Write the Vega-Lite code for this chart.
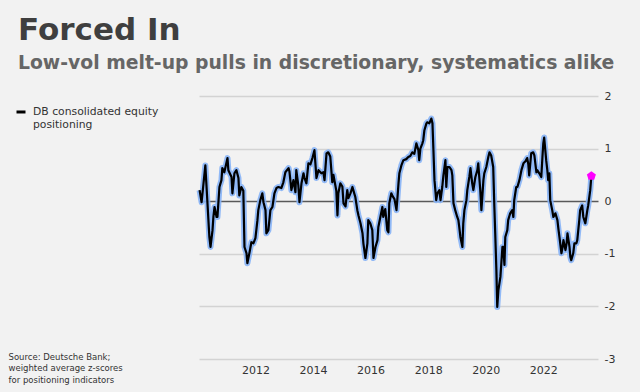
{
  "$schema": "https://vega.github.io/schema/vega-lite/v6.json",
  "width": 399,
  "height": 263,
  "autosize": {"type": "none"},
  "padding": {"left": 199, "top": 96, "right": 42, "bottom": 33},
  "background": "#f2f2f2",
  "config": {"font": "DejaVu Sans", "view": {"stroke": null}},
  "title": {
    "text": "Forced In",
    "subtitle": "Low-vol melt-up pulls in discretionary, systematics alike",
    "anchor": "start",
    "frame": "group",
    "dx": -181,
    "offset": 16,
    "font": "DejaVu Sans",
    "fontSize": 31,
    "fontWeight": "bold",
    "color": "#3f3f3f",
    "subtitleFont": "DejaVu Sans",
    "subtitleFontSize": 18.8,
    "subtitleFontWeight": "bold",
    "subtitleColor": "#666666",
    "subtitlePadding": 7
  },
  "data": {"values": [
    {"t": 2010.06, "v": 0.21}, {"t": 2010.13, "v": -0.02}, {"t": 2010.26, "v": 0.68}, {"t": 2010.40, "v": -0.68},
    {"t": 2010.44, "v": -0.87}, {"t": 2010.51, "v": -0.55}, {"t": 2010.54, "v": -0.30}, {"t": 2010.58, "v": -0.11},
    {"t": 2010.65, "v": -0.30}, {"t": 2010.68, "v": -0.30}, {"t": 2010.75, "v": 0.27}, {"t": 2010.82, "v": 0.40},
    {"t": 2010.85, "v": 0.63}, {"t": 2010.92, "v": 0.55}, {"t": 2011.03, "v": 0.82}, {"t": 2011.06, "v": 0.59},
    {"t": 2011.17, "v": 0.46}, {"t": 2011.20, "v": 0.15}, {"t": 2011.27, "v": 0.53}, {"t": 2011.34, "v": 0.59},
    {"t": 2011.41, "v": 0.44}, {"t": 2011.44, "v": 0.11}, {"t": 2011.51, "v": 0.27}, {"t": 2011.58, "v": 0.20},
    {"t": 2011.62, "v": -0.87}, {"t": 2011.69, "v": -0.99}, {"t": 2011.72, "v": -1.18}, {"t": 2011.79, "v": -0.99},
    {"t": 2011.86, "v": -0.78}, {"t": 2011.93, "v": -0.80}, {"t": 2012.00, "v": -0.70}, {"t": 2012.07, "v": -0.36},
    {"t": 2012.10, "v": -0.17}, {"t": 2012.17, "v": 0.02}, {"t": 2012.24, "v": 0.15}, {"t": 2012.28, "v": -0.02},
    {"t": 2012.35, "v": -0.17}, {"t": 2012.38, "v": -0.61}, {"t": 2012.45, "v": -0.55}, {"t": 2012.52, "v": -0.17},
    {"t": 2012.59, "v": -0.11}, {"t": 2012.66, "v": 0.15}, {"t": 2012.73, "v": 0.25}, {"t": 2012.80, "v": 0.27},
    {"t": 2012.90, "v": 0.25}, {"t": 2012.97, "v": 0.36}, {"t": 2013.04, "v": 0.55}, {"t": 2013.15, "v": 0.63},
    {"t": 2013.18, "v": 0.57}, {"t": 2013.25, "v": 0.21}, {"t": 2013.32, "v": 0.40}, {"t": 2013.39, "v": 0.17},
    {"t": 2013.42, "v": 0.59}, {"t": 2013.49, "v": 0.30}, {"t": 2013.53, "v": -0.02}, {"t": 2013.60, "v": 0.34},
    {"t": 2013.67, "v": 0.53}, {"t": 2013.70, "v": 0.45}, {"t": 2013.77, "v": 0.34}, {"t": 2013.84, "v": 0.72},
    {"t": 2013.91, "v": 0.70}, {"t": 2013.98, "v": 0.82}, {"t": 2014.05, "v": 0.97}, {"t": 2014.12, "v": 0.44},
    {"t": 2014.19, "v": 0.59}, {"t": 2014.29, "v": 0.53}, {"t": 2014.36, "v": 0.55}, {"t": 2014.40, "v": 0.40},
    {"t": 2014.47, "v": 0.91}, {"t": 2014.53, "v": 0.93}, {"t": 2014.60, "v": 0.85}, {"t": 2014.67, "v": 0.36},
    {"t": 2014.71, "v": 0.50}, {"t": 2014.81, "v": 0.20}, {"t": 2014.85, "v": -0.27}, {"t": 2014.88, "v": 0.15},
    {"t": 2014.95, "v": 0.34}, {"t": 2015.02, "v": 0.28}, {"t": 2015.06, "v": -0.04}, {"t": 2015.13, "v": -0.10},
    {"t": 2015.19, "v": 0.21}, {"t": 2015.23, "v": 0.06}, {"t": 2015.30, "v": 0.15}, {"t": 2015.37, "v": 0.27},
    {"t": 2015.40, "v": 0.21}, {"t": 2015.47, "v": 0.08}, {"t": 2015.54, "v": -0.17}, {"t": 2015.58, "v": -0.27},
    {"t": 2015.65, "v": -0.42}, {"t": 2015.72, "v": -0.61}, {"t": 2015.75, "v": -0.80}, {"t": 2015.82, "v": -1.08},
    {"t": 2015.89, "v": -0.80}, {"t": 2015.92, "v": -0.36}, {"t": 2015.99, "v": -0.42}, {"t": 2016.06, "v": -0.55},
    {"t": 2016.10, "v": -1.08}, {"t": 2016.17, "v": -0.87}, {"t": 2016.24, "v": -0.74}, {"t": 2016.27, "v": -0.49},
    {"t": 2016.34, "v": -0.30}, {"t": 2016.41, "v": -0.11}, {"t": 2016.44, "v": -0.30}, {"t": 2016.51, "v": -0.15},
    {"t": 2016.58, "v": -0.55}, {"t": 2016.62, "v": -0.59}, {"t": 2016.65, "v": -0.04}, {"t": 2016.72, "v": 0.15},
    {"t": 2016.76, "v": 0.10}, {"t": 2016.83, "v": 0.04}, {"t": 2016.90, "v": -0.17}, {"t": 2016.93, "v": 0.04},
    {"t": 2016.97, "v": 0.34}, {"t": 2017.00, "v": 0.53}, {"t": 2017.07, "v": 0.68}, {"t": 2017.14, "v": 0.78},
    {"t": 2017.24, "v": 0.80}, {"t": 2017.31, "v": 0.84}, {"t": 2017.38, "v": 0.86}, {"t": 2017.45, "v": 0.93},
    {"t": 2017.52, "v": 0.90}, {"t": 2017.59, "v": 1.10}, {"t": 2017.66, "v": 0.97}, {"t": 2017.69, "v": 0.78},
    {"t": 2017.73, "v": 1.00}, {"t": 2017.80, "v": 1.10}, {"t": 2017.83, "v": 1.16}, {"t": 2017.87, "v": 1.35},
    {"t": 2017.94, "v": 1.48}, {"t": 2017.97, "v": 1.50}, {"t": 2018.04, "v": 1.48}, {"t": 2018.11, "v": 1.57},
    {"t": 2018.15, "v": 1.48}, {"t": 2018.18, "v": 1.02}, {"t": 2018.22, "v": 0.40}, {"t": 2018.28, "v": 0.02},
    {"t": 2018.32, "v": 0.15}, {"t": 2018.39, "v": 0.21}, {"t": 2018.43, "v": 0.02}, {"t": 2018.49, "v": 0.27},
    {"t": 2018.53, "v": 0.49}, {"t": 2018.60, "v": 0.78}, {"t": 2018.63, "v": 0.27}, {"t": 2018.67, "v": 0.65},
    {"t": 2018.74, "v": 0.65}, {"t": 2018.81, "v": 0.59}, {"t": 2018.84, "v": 0.49}, {"t": 2018.88, "v": -0.04},
    {"t": 2018.94, "v": -0.17}, {"t": 2019.01, "v": -0.30}, {"t": 2019.05, "v": -0.36}, {"t": 2019.08, "v": -0.49},
    {"t": 2019.12, "v": -0.68}, {"t": 2019.19, "v": -0.87}, {"t": 2019.22, "v": -0.42}, {"t": 2019.26, "v": -0.17},
    {"t": 2019.33, "v": 0.02}, {"t": 2019.36, "v": 0.21}, {"t": 2019.43, "v": 0.46}, {"t": 2019.47, "v": 0.63},
    {"t": 2019.53, "v": 0.34}, {"t": 2019.57, "v": 0.21}, {"t": 2019.64, "v": 0.46}, {"t": 2019.71, "v": 0.59},
    {"t": 2019.74, "v": 0.72}, {"t": 2019.81, "v": 0.21}, {"t": 2019.85, "v": -0.17}, {"t": 2019.92, "v": 0.40},
    {"t": 2019.95, "v": 0.53}, {"t": 2020.02, "v": 0.65}, {"t": 2020.09, "v": 0.84}, {"t": 2020.13, "v": 0.93},
    {"t": 2020.19, "v": 0.87}, {"t": 2020.26, "v": 0.65}, {"t": 2020.30, "v": -0.11}, {"t": 2020.33, "v": -0.61},
    {"t": 2020.37, "v": -1.31}, {"t": 2020.40, "v": -2.01}, {"t": 2020.44, "v": -1.69}, {"t": 2020.51, "v": -1.44},
    {"t": 2020.58, "v": -0.87}, {"t": 2020.61, "v": -0.87}, {"t": 2020.65, "v": -1.21}, {"t": 2020.68, "v": -0.68},
    {"t": 2020.75, "v": -0.55}, {"t": 2020.78, "v": -0.36}, {"t": 2020.85, "v": -0.23}, {"t": 2020.92, "v": -0.17},
    {"t": 2020.96, "v": -0.30}, {"t": 2020.99, "v": 0.02}, {"t": 2021.06, "v": 0.27}, {"t": 2021.10, "v": 0.27},
    {"t": 2021.17, "v": 0.40}, {"t": 2021.24, "v": 0.59}, {"t": 2021.31, "v": 0.72}, {"t": 2021.38, "v": 0.76},
    {"t": 2021.44, "v": 0.82}, {"t": 2021.48, "v": 0.70}, {"t": 2021.51, "v": 0.49}, {"t": 2021.58, "v": 0.91},
    {"t": 2021.65, "v": 0.93}, {"t": 2021.69, "v": 0.87}, {"t": 2021.76, "v": 0.55}, {"t": 2021.79, "v": 0.59},
    {"t": 2021.86, "v": 0.53}, {"t": 2021.93, "v": 0.46}, {"t": 2021.97, "v": 0.84}, {"t": 2022.00, "v": 1.10},
    {"t": 2022.03, "v": 1.21}, {"t": 2022.10, "v": 0.78}, {"t": 2022.14, "v": 0.59}, {"t": 2022.17, "v": 0.40},
    {"t": 2022.21, "v": 0.53}, {"t": 2022.24, "v": 0.02}, {"t": 2022.31, "v": -0.17}, {"t": 2022.35, "v": -0.30},
    {"t": 2022.42, "v": -0.23}, {"t": 2022.49, "v": -0.36}, {"t": 2022.53, "v": -0.55}, {"t": 2022.56, "v": -0.68},
    {"t": 2022.63, "v": -0.99}, {"t": 2022.67, "v": -0.87}, {"t": 2022.70, "v": -0.74}, {"t": 2022.77, "v": -0.93},
    {"t": 2022.81, "v": -0.80}, {"t": 2022.84, "v": -0.61}, {"t": 2022.91, "v": -0.87}, {"t": 2022.94, "v": -1.06},
    {"t": 2022.97, "v": -1.12}, {"t": 2023.04, "v": -0.99}, {"t": 2023.08, "v": -0.80}, {"t": 2023.15, "v": -0.80},
    {"t": 2023.18, "v": -0.74}, {"t": 2023.25, "v": -0.36}, {"t": 2023.28, "v": -0.17}, {"t": 2023.35, "v": -0.08},
    {"t": 2023.39, "v": -0.30}, {"t": 2023.46, "v": -0.42}, {"t": 2023.53, "v": -0.17}, {"t": 2023.56, "v": -0.08},
    {"t": 2023.63, "v": 0.21}, {"t": 2023.67, "v": 0.48}
  ]},
  "encoding": {
    "x": {
      "field": "t",
      "type": "quantitative",
      "scale": {"domain": [2010.04, 2023.9], "nice": false, "zero": false},
      "axis": {
        "values": [2012, 2014, 2016, 2018, 2020, 2022],
        "format": "d",
        "grid": false,
        "domain": false,
        "ticks": false,
        "labelFontSize": 11,
        "labelColor": "#333333",
        "labelPadding": 5,
        "title": ["Source: Deutsche Bank;", "weighted average z-scores", "for positioning indicators"],
        "titleX": -191,
        "titleY": -7,
        "titleAlign": "left",
        "titleAngle": 0,
        "titleBaseline": "top",
        "titleFontSize": 8.5,
        "titleFontWeight": "normal",
        "titleColor": "#333333",
        "titleLineHeight": 11.5
      }
    },
    "y": {
      "field": "v",
      "type": "quantitative",
      "scale": {"domain": [-3, 2], "nice": false},
      "axis": {
        "orient": "right",
        "values": [-3, -2, -1, 0, 1, 2],
        "title": null,
        "domain": false,
        "ticks": false,
        "labelFontSize": 11,
        "labelColor": "#333333",
        "labelPadding": 6,
        "labelExpr": "replace(datum.label, '\u2212', '-')",
        "gridColor": {"condition": {"test": "datum.value === 0", "value": "#595959"}, "value": "#d3d3d3"},
        "gridWidth": 1.3
      }
    }
  },
  "layer": [
    {"mark": {"type": "line", "color": "#86b3f6", "strokeWidth": 6, "strokeJoin": "round", "opacity": 0.9}},
    {
      "mark": {"type": "line", "strokeWidth": 2.2, "strokeJoin": "round"},
      "encoding": {
        "color": {
          "datum": "DB consolidated equity positioning",
          "scale": {"range": ["#000000"]},
          "legend": {
            "orient": "none",
            "legendX": -184,
            "legendY": 13,
            "title": null,
            "symbolType": "M-1,-0.67L1,-0.67",
            "symbolStrokeWidth": 3,
            "symbolSize": 81,
            "labelFontSize": 10.8,
            "labelColor": "#333333",
            "labelBaseline": "alphabetic",
            "labelLineHeight": 11,
            "labelOffset": 6,
            "labelLimit": 200,
            "labelExpr": "['DB consolidated equity', 'positioning']"
          }
        }
      }
    },
    {
      "transform": [{"filter": "datum.t > 2023.66"}],
      "mark": {"type": "point", "shape": "M0,-1L0.951,-0.309L0.588,0.809L-0.588,0.809L-0.951,-0.309Z", "filled": true, "color": "#ff00ff", "opacity": 1, "size": 90}
    }
  ]
}
